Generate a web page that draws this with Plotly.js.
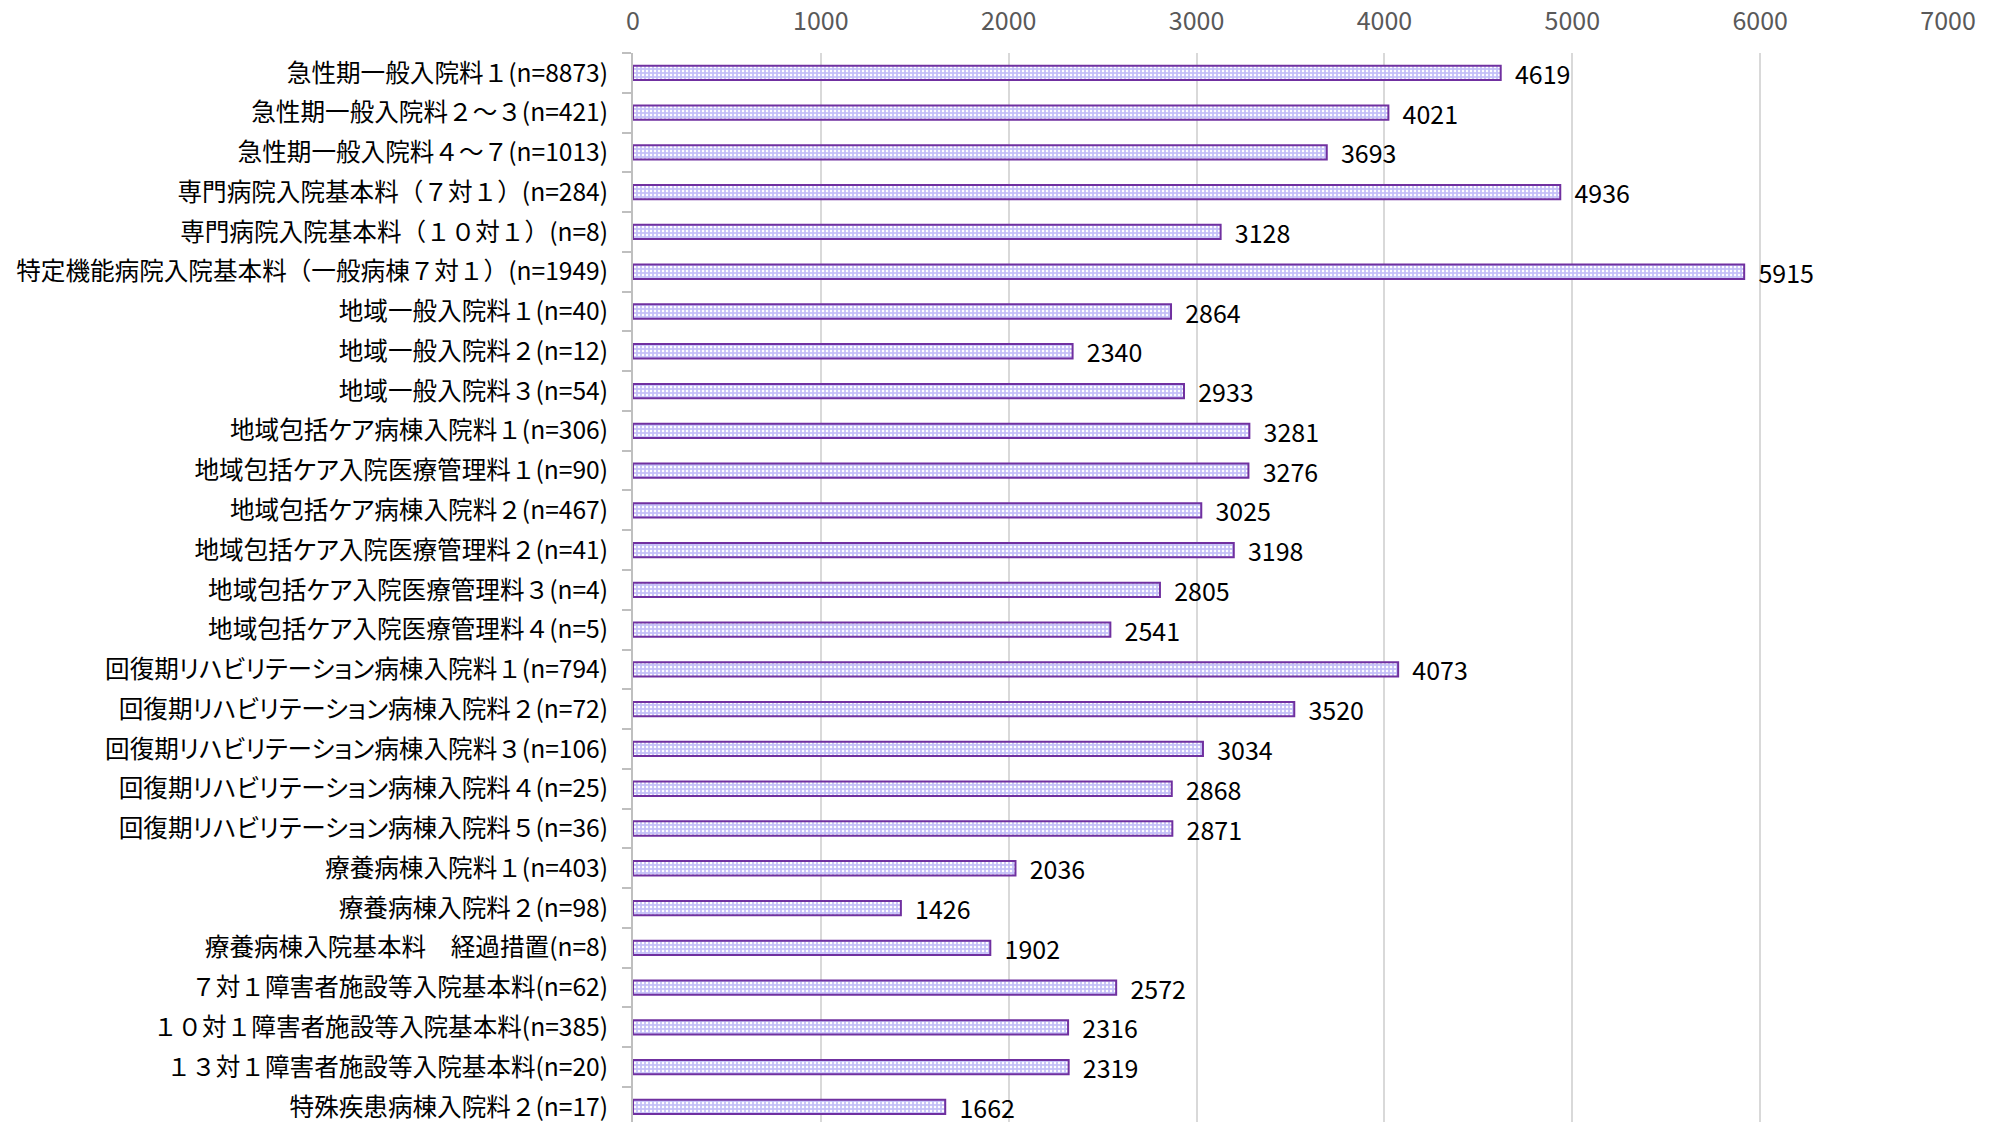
<!DOCTYPE html>
<html>
<head>
<meta charset="utf-8">
<script src="https://cdn.plot.ly/plotly-3.0.1.min.js"></script>
<style>
html,body{margin:0;padding:0;background:#fff;}
#chart{width:1993px;height:1122px;}
.ytick text{font-feature-settings:"palt" 1;}
</style>
</head>
<body>
<div id="chart"></div>
<script>
const categories = [
  "急性期一般入院料１(n=8873)",
  "急性期一般入院料２～３(n=421)",
  "急性期一般入院料４～７(n=1013)",
  "専門病院入院基本料（７対１）(n=284)",
  "専門病院入院基本料（１０対１）(n=8)",
  "特定機能病院入院基本料（一般病棟７対１）(n=1949)",
  "地域一般入院料１(n=40)",
  "地域一般入院料２(n=12)",
  "地域一般入院料３(n=54)",
  "地域包括ケア病棟入院料１(n=306)",
  "地域包括ケア入院医療管理料１(n=90)",
  "地域包括ケア病棟入院料２(n=467)",
  "地域包括ケア入院医療管理料２(n=41)",
  "地域包括ケア入院医療管理料３(n=4)",
  "地域包括ケア入院医療管理料４(n=5)",
  "回復期リハビリテーション病棟入院料１(n=794)",
  "回復期リハビリテーション病棟入院料２(n=72)",
  "回復期リハビリテーション病棟入院料３(n=106)",
  "回復期リハビリテーション病棟入院料４(n=25)",
  "回復期リハビリテーション病棟入院料５(n=36)",
  "療養病棟入院料１(n=403)",
  "療養病棟入院料２(n=98)",
  "療養病棟入院基本料　経過措置(n=8)",
  "７対１障害者施設等入院基本料(n=62)",
  "１０対１障害者施設等入院基本料(n=385)",
  "１３対１障害者施設等入院基本料(n=20)",
  "特殊疾患病棟入院料２(n=17)"
];
const values = [4619, 4021, 3693, 4936, 3128, 5915, 2864, 2340, 2933, 3281, 3276, 3025, 3198, 2805, 2541, 4073, 3520, 3034, 2868, 2871, 2036, 1426, 1902, 2572, 2316, 2319, 1662];
const xTickValues = [0, 1000, 2000, 3000, 4000, 5000, 6000, 7000];

const FONT = '"Noto Sans CJK JP", "Noto Sans", sans-serif';

// keep full-width digits, brackets and wave dash at full width (proportional only for kana)
const tickText = categories.map(function (c) {
  return c.replace(/([（）０-９～　])/g, '<span style="font-feature-settings:normal">$1</span>');
});

const trace = {
  type: 'bar',
  orientation: 'h',
  y: categories,
  x: values,
  width: 0.36,
  texttemplate: '\u00a0\u00a0%{x}',
  textposition: 'outside',
  constraintext: 'none',
  cliponaxis: false,
  textfont: {family: FONT, size: 25, color: '#000000'},
  marker: {
    color: '#c4c0f8',
    line: {color: '#7030a0', width: 2},
    pattern: {shape: '.', fillmode: 'replace', bgcolor: '#c4c0f8', fgcolor: '#ffffff', size: 4, solidity: 0.3}
  },
  hoverinfo: 'skip'
};

const layout = {
  width: 1993,
  height: 1122,
  margin: {l: 633, r: 45, t: 53, b: 0},
  paper_bgcolor: '#ffffff',
  plot_bgcolor: '#ffffff',
  showlegend: false,
  font: {family: FONT, color: '#000000'},
  xaxis: {
    side: 'top',
    range: [0, 7000],
    tickvals: xTickValues,
    showgrid: true,
    gridcolor: '#d9d9d9',
    gridwidth: 2,
    zeroline: false,
    showline: false,
    ticks: 'outside',
    ticklen: 12,
    tickcolor: 'rgba(0,0,0,0)',
    tickfont: {family: FONT, size: 25, color: '#595959'}
  },
  yaxis: {
    type: 'category',
    range: [26.38, -0.5],
    tickvals: categories,
    ticktext: tickText,
    showgrid: false,
    zeroline: false,
    showline: true,
    linecolor: '#bfbfbf',
    linewidth: 2,
    ticks: 'outside',
    tickson: 'boundaries',
    ticklen: 9,
    tickcolor: '#bfbfbf',
    tickwidth: 2,
    ticklabelstandoff: 18,
    tickfont: {family: FONT, size: 24.6, color: '#000000'}
  }
};

Plotly.newPlot('chart', [trace], layout, {displayModeBar: false, staticPlot: true});
</script>
</body>
</html>
